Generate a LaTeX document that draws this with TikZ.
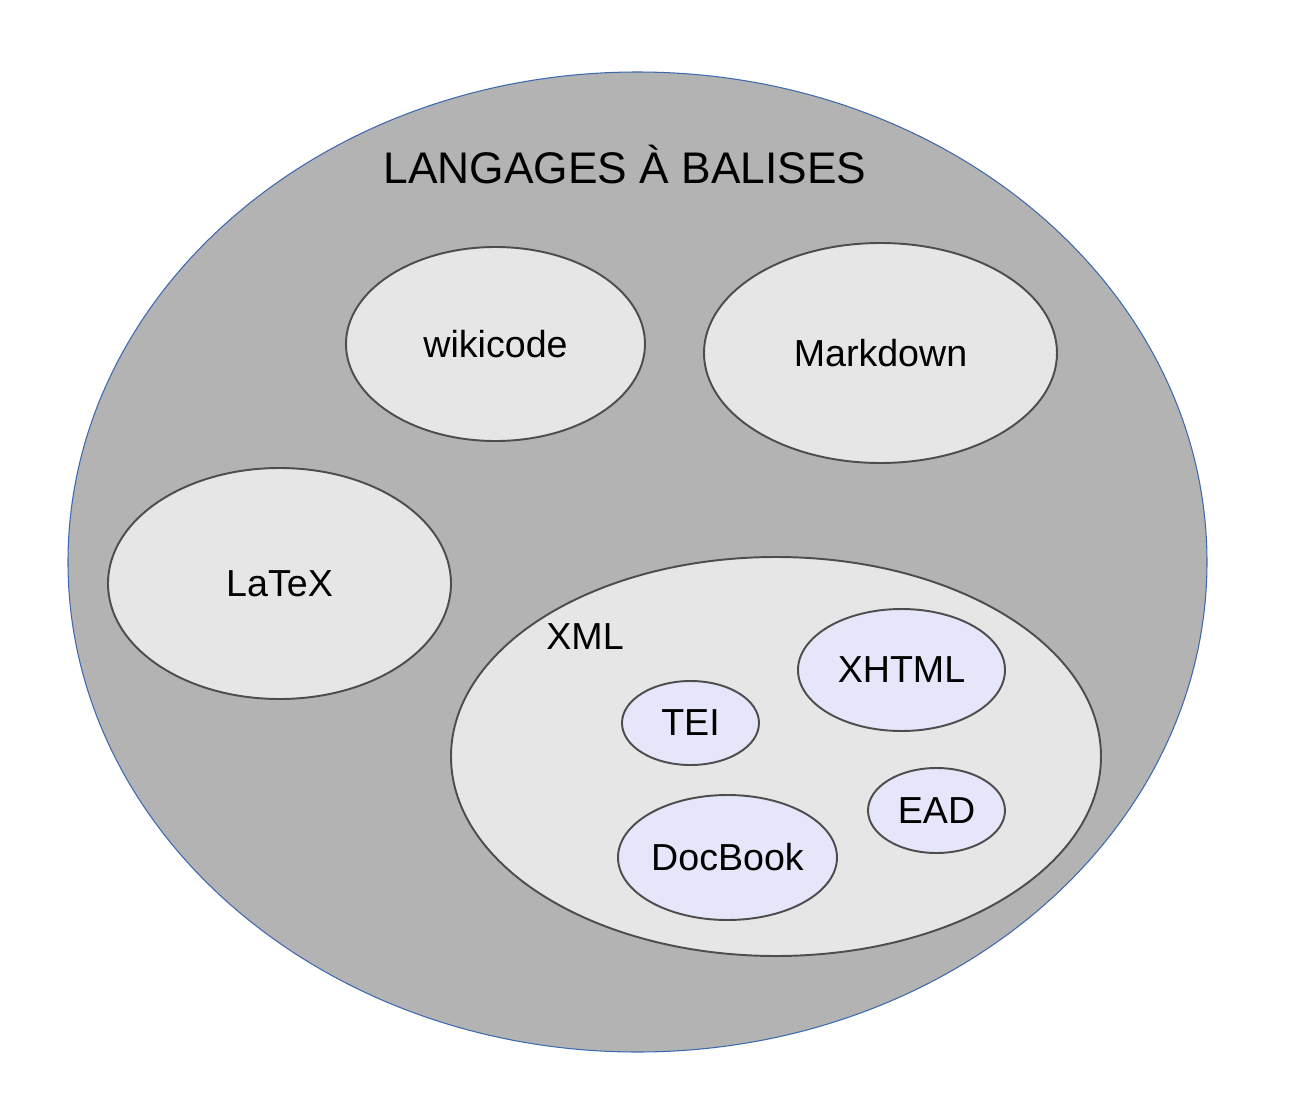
\documentclass[tikz,border=0pt]{standalone}
\usepackage{fontspec}
\setmainfont{Liberation Sans}
\usetikzlibrary{shapes.geometric}
\definecolor{outer}{HTML}{B3B3B3}
\definecolor{inner}{HTML}{E6E6E6}
\definecolor{lavender}{HTML}{E6E6FA}
\definecolor{rim}{HTML}{4D4D4D}
\definecolor{bluerim}{HTML}{3C69B0}

\begin{document}
\begin{tikzpicture}[x=1cm, y=1cm,
  every node/.style={font=\fontsize{10.7}{12}\selectfont},
  lang/.style={ellipse, draw=rim, line width=0.55pt, fill=inner, inner sep=0pt},
  sub/.style={lang, fill=lavender},
  title/.style={font=\fontsize{12.6}{14}\selectfont}]
  \useasboundingbox (0,0) rectangle (12.98,-11.14);
  % outer set
  \node[ellipse, draw=bluerim, line width=0.3pt, fill=outer, minimum width=11.39cm, minimum height=9.80cm] (all) at (6.375,-5.62) {};
  \node[title] (ttl) at (6.25,-1.645) {LANGAGES À BALISES};
  % first level
  \node[lang, minimum width=2.99cm, minimum height=1.94cm] (wiki) at (4.955,-3.44) {wikicode};
  \node[lang, minimum width=3.53cm, minimum height=2.20cm] (md) at (8.805,-3.53) {Markdown};
  \node[lang, minimum width=3.43cm, minimum height=2.31cm] (latex) at (2.795,-5.835) {LaTeX};
  \node[lang, minimum width=6.50cm, minimum height=3.99cm] (xml) at (7.76,-7.565) {};
  \node (xmllab) at (5.85,-6.37) {XML};
  % inside XML
  \node[sub, minimum width=2.07cm, minimum height=1.22cm] (xhtml) at (9.015,-6.70) {XHTML};
  \node[sub, minimum width=1.37cm, minimum height=0.84cm] (tei) at (6.905,-7.23) {TEI};
  \node[sub, minimum width=1.37cm, minimum height=0.85cm] (ead) at (9.365,-8.105) {EAD};
  \node[sub, minimum width=2.19cm, minimum height=1.25cm] (docbook) at (7.275,-8.575) {DocBook};
\end{tikzpicture}
\end{document}
